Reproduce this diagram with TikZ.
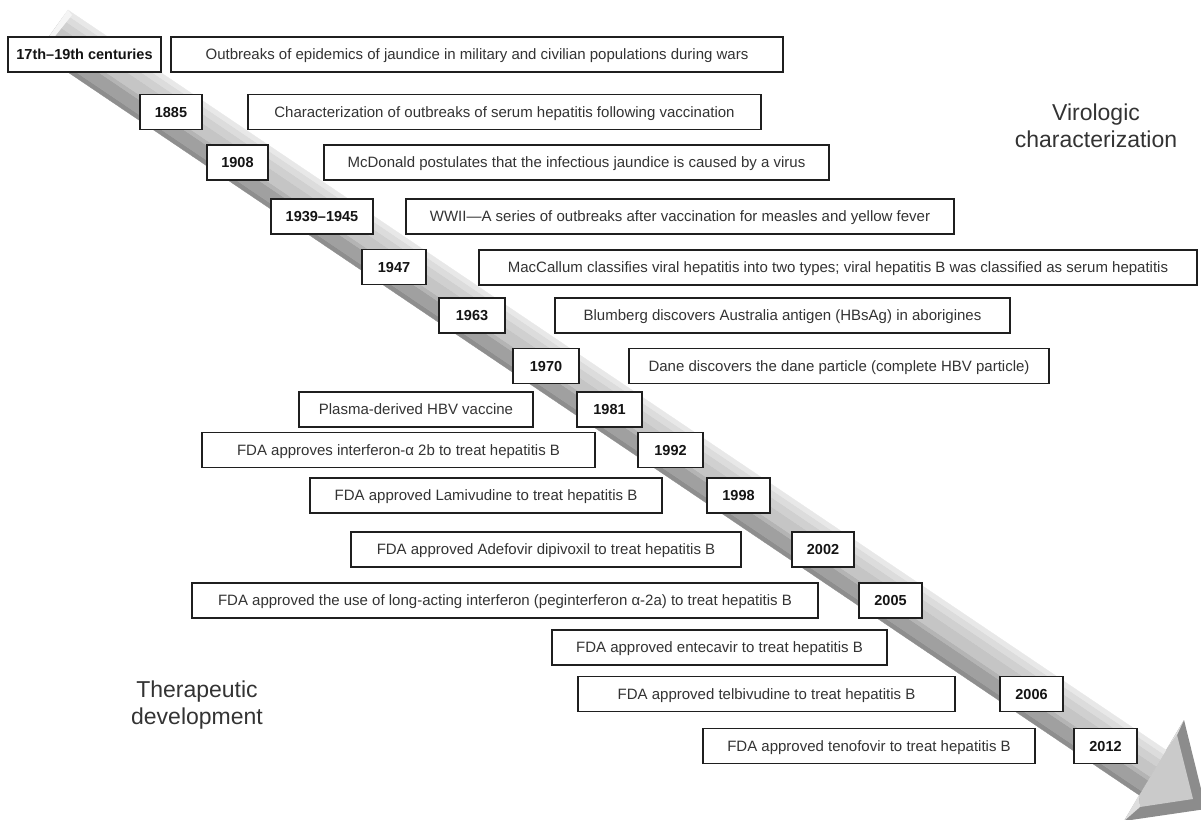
\documentclass[tikz,border=0pt]{standalone}
\usepackage{fontspec}
\setmainfont{Liberation Sans}
\usetikzlibrary{calc}
\definecolor{shA}{HTML}{8E8E8E}
\definecolor{shB}{HTML}{A0A0A0}
\definecolor{shC}{HTML}{B4B4B4}
\definecolor{shD}{HTML}{C5C5C5}
\definecolor{shE}{HTML}{D0D0D0}
\definecolor{shF}{HTML}{DCDCDC}
\definecolor{shG}{HTML}{E8E8E8}
\definecolor{headdark}{HTML}{8C8C8C}
\definecolor{headlight}{HTML}{CACACA}
\definecolor{headpale}{HTML}{DEDEDE}
\newcommand\yrfont{\fontsize{14.5}{17}\selectfont\bfseries}
\newcommand\evtfont{\fontsize{15}{18}\selectfont}
\newcommand\lblfont{\fontsize{23}{27}\selectfont}
\tikzset{
  tlbox/.style={draw=black!88, line width=1.5pt, fill=white, minimum height=35pt, inner sep=0pt, align=center},
  yearbox/.style={tlbox, font=\yrfont, text=black!92, text height=10.4pt, text depth=0pt},
  eventbox/.style={tlbox, font=\evtfont, text=black!80, text height=10.8pt, text depth=0pt},
  sidelabel/.style={font=\lblfont, text=black!80, align=center, inner sep=0pt}
}
\begin{document}
\begin{tikzpicture}[x=1pt,y=1pt]
\useasboundingbox (0,0) rectangle (1201,819);
\begin{scope}
\clip (0,0) rectangle (1201,819);
% arrow geometry
\coordinate (T1) at (68,809);
\coordinate (T2) at (38,767);
\coordinate (H1) at (1166,69);
\coordinate (H2) at (1139,24);
\coordinate (A) at (1184,99);
\coordinate (B) at (1124,-2);
\coordinate (C) at (1206,10);
% head
\fill[headdark] (A) -- (C) -- (B) -- cycle;
\fill[headlight] (1177,84) -- (1193,20) -- (1140,12) -- (H2) -- (H1) -- cycle;
\fill[headpale] (A) -- (1177,84) -- (H1) -- cycle;
\fill[headpale] (B) -- (H2) -- (1140,12) -- cycle;
% shaft stripes
\foreach \fa/\fb/\col in {0/0.09/shA, 0.09/0.33/shB, 0.33/0.41/shC, 0.41/0.64/shD, 0.64/0.79/shE, 0.79/0.91/shF, 0.91/1/shG}{
  \fill[\col, draw=\col, line width=0.3pt] ($(T2)!\fa!(T1)$) -- ($(H2)!\fa!(H1)$) -- ($(H2)!\fb!(H1)$) -- ($(T2)!\fb!(T1)$) -- cycle;
}
\fill[white!70!shF] (T1) -- (T2) -- ($(T2)+(6,2)$) -- ($(T1)+(4,-5)$) -- cycle;
\end{scope}
% year boxes
\node[yearbox, minimum width=153pt] (y17) at (84.5,764.5) {17th–19th centuries};
\node[yearbox, minimum width=62pt] (y1885) at (171,707) {1885};
\node[yearbox, minimum width=61pt] (y1908) at (237.5,656.5) {1908};
\node[yearbox, minimum width=102pt] (y1939) at (322,602.5) {1939–1945};
\node[yearbox, minimum width=64pt] (y1947) at (394,552) {1947};
\node[yearbox, minimum width=66pt] (y1963) at (472,503.5) {1963};
\node[yearbox, minimum width=66pt] (y1970) at (546,453) {1970};
\node[yearbox, minimum width=65pt] (y1981) at (609.5,409.5) {1981};
\node[yearbox, minimum width=65pt] (y1992) at (670.5,369) {1992};
\node[yearbox, minimum width=63pt] (y1998) at (738.5,323.5) {1998};
\node[yearbox, minimum width=62pt] (y2002) at (823,269.5) {2002};
\node[yearbox, minimum width=63pt] (y2005) at (890.5,218.5) {2005};
\node[yearbox, minimum width=63pt] (y2006) at (1031.5,125) {2006};
\node[yearbox, minimum width=63pt] (y2012) at (1105.5,73) {2012};
% event boxes
\node[eventbox, minimum width=612pt] (e17) at (477,764.5) {Outbreaks of epidemics of jaundice in military and civilian populations during wars};
\node[eventbox, minimum width=513pt] (e1885) at (504.5,707) {Characterization of outbreaks of serum hepatitis following vaccination};
\node[eventbox, minimum width=505pt] (e1908) at (576.5,656.5) {McDonald postulates that the infectious jaundice is caused by a virus};
\node[eventbox, minimum width=548pt] (e1939) at (680,602.5) {WWII—A series of outbreaks after vaccination for measles and yellow fever};
\node[eventbox, minimum width=718pt] (e1947) at (838,551.5) {MacCallum classifies viral hepatitis into two types; viral hepatitis B was classified as serum hepatitis};
\node[eventbox, minimum width=455pt] (e1963) at (782.5,503.5) {Blumberg discovers Australia antigen (HBsAg) in aborigines};
\node[eventbox, minimum width=420pt] (e1970) at (839,453) {Dane discovers the dane particle (complete HBV particle)};
\node[eventbox, minimum width=234pt] (e1981) at (416,409.5) {Plasma-derived HBV vaccine};
\node[eventbox, minimum width=393pt] (e1992) at (398.5,369) {FDA approves interferon-α 2b to treat hepatitis B};
\node[eventbox, minimum width=352pt] (e1998) at (486,323.5) {FDA approved Lamivudine to treat hepatitis B};
\node[eventbox, minimum width=390pt] (e2002) at (546,269.5) {FDA approved Adefovir dipivoxil to treat hepatitis B};
\node[eventbox, minimum width=626pt] (e2005) at (505,218.5) {FDA approved the use of long-acting interferon (peginterferon α-2a) to treat hepatitis B};
\node[eventbox, minimum width=335pt] (e2005b) at (719.5,171.5) {FDA approved entecavir to treat hepatitis B};
\node[eventbox, minimum width=377pt] (e2006) at (766.5,125) {FDA approved telbivudine to treat hepatitis B};
\node[eventbox, minimum width=332pt] (e2012) at (869,73) {FDA approved tenofovir to treat hepatitis B};
% side labels
\node[sidelabel] (viro) at (1096,693) {Virologic\\characterization};
\node[sidelabel] (thera) at (197,113.5) {Therapeutic\\development};
\end{tikzpicture}
\end{document}
